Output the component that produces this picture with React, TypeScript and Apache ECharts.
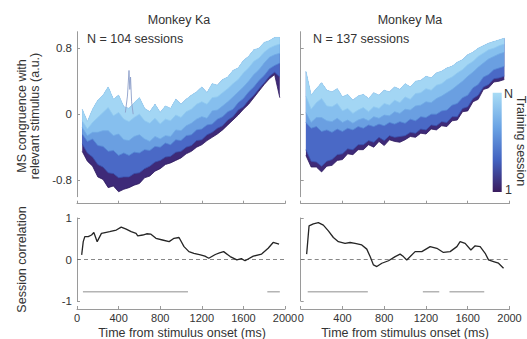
import React, { useEffect, useRef } from "react";
import * as echarts from "echarts";

const FONT = '"Liberation Sans", Arial, Helvetica, sans-serif';

// time grid (ms) of the session traces
const times = [50, 100, 150, 200, 250, 300, 350, 400, 450, 500, 550, 600, 650, 700, 750, 800, 850, 900, 950, 1000,
  1050, 1100, 1150, 1200, 1250, 1300, 1350, 1400, 1450, 1500, 1550, 1600, 1650, 1700, 1750, 1800, 1850, 1900, 1950];

// Monkey Ka – upper envelope of all traces, and lower edges of session groups
// (B0 = earliest sessions ... B4 = latest sessions)
const kaTop = [0.06, -0.09, 0.06, 0.17, 0.23, 0.33, 0.18, 0.23, 0.09, 0.07, 0.14, 0.20, 0.07, 0.03, 0.12, 0.02, 0.10, 0.07, 0.18, 0.12,
  0.18, 0.23, 0.27, 0.33, 0.26, 0.37, 0.35, 0.42, 0.45, 0.53, 0.56, 0.65, 0.70, 0.78, 0.80, 0.87, 0.89, 0.93, 0.93];
const kaB4 = [-0.08, -0.18, -0.10, -0.04, 0.02, 0.08, -0.02, 0.02, -0.06, -0.09, -0.04, 0.00, -0.08, -0.11, -0.05, -0.12, -0.06, -0.08, -0.01, -0.04,
  0.03, 0.06, 0.12, 0.15, 0.12, 0.20, 0.21, 0.26, 0.31, 0.37, 0.42, 0.50, 0.56, 0.64, 0.68, 0.75, 0.80, 0.83, 0.85];
const kaB3 = [-0.16, -0.26, -0.22, -0.22, -0.20, -0.20, -0.26, -0.24, -0.31, -0.32, -0.27, -0.25, -0.30, -0.33, -0.27, -0.30, -0.26, -0.27, -0.19, -0.20,
  -0.14, -0.11, -0.06, -0.03, -0.05, 0.04, 0.05, 0.10, 0.15, 0.21, 0.27, 0.33, 0.40, 0.48, 0.54, 0.62, 0.69, 0.72, 0.74];
const kaB2 = [-0.24, -0.33, -0.30, -0.38, -0.39, -0.45, -0.44, -0.50, -0.47, -0.50, -0.46, -0.47, -0.43, -0.44, -0.39, -0.40, -0.35, -0.37, -0.31, -0.32,
  -0.26, -0.25, -0.19, -0.18, -0.13, -0.12, -0.06, -0.03, 0.03, 0.06, 0.14, 0.19, 0.27, 0.33, 0.41, 0.47, 0.55, 0.59, 0.62];
const kaB1 = [-0.36, -0.47, -0.52, -0.61, -0.64, -0.71, -0.72, -0.77, -0.76, -0.76, -0.72, -0.71, -0.66, -0.63, -0.58, -0.56, -0.52, -0.51, -0.46, -0.45,
  -0.40, -0.38, -0.32, -0.31, -0.25, -0.22, -0.17, -0.14, -0.07, -0.03, 0.05, 0.09, 0.17, 0.23, 0.31, 0.38, 0.46, 0.51, 0.45];
const kaB0 = [-0.45, -0.57, -0.63, -0.76, -0.79, -0.89, -0.87, -0.94, -0.91, -0.89, -0.86, -0.84, -0.77, -0.75, -0.69, -0.66, -0.61, -0.59, -0.56, -0.53,
  -0.48, -0.45, -0.40, -0.37, -0.32, -0.28, -0.24, -0.19, -0.13, -0.07, -0.01, 0.06, 0.12, 0.20, 0.28, 0.36, 0.43, 0.48, 0.20];
// single outlier session trace in Ka
const kaSpikeT = [465, 485, 500, 508, 515, 525, 540];
const kaSpikeV = [0.02, 0.22, 0.53, 0.30, 0.45, 0.15, 0.0];

// Monkey Ma
const maTop = [0.52, 0.23, 0.31, 0.38, 0.29, 0.27, 0.31, 0.21, 0.24, 0.17, 0.22, 0.24, 0.19, 0.26, 0.23, 0.29, 0.27, 0.33, 0.30, 0.37,
  0.33, 0.40, 0.41, 0.46, 0.44, 0.50, 0.52, 0.56, 0.58, 0.63, 0.66, 0.72, 0.75, 0.80, 0.83, 0.86, 0.88, 0.90, 0.92];
const maB4 = [0.22, 0.06, 0.14, 0.19, 0.10, 0.09, 0.13, 0.04, 0.07, 0.01, 0.05, 0.08, 0.03, 0.09, 0.07, 0.13, 0.11, 0.17, 0.14, 0.21,
  0.18, 0.25, 0.26, 0.31, 0.29, 0.35, 0.37, 0.42, 0.45, 0.50, 0.54, 0.60, 0.64, 0.70, 0.74, 0.78, 0.80, 0.83, 0.85];
const maB3 = [0.02, -0.10, -0.04, -0.04, -0.08, -0.09, -0.05, -0.10, -0.07, -0.11, -0.07, -0.05, -0.08, -0.03, -0.05, -0.01, -0.02, 0.03, 0.01, 0.06,
  0.05, 0.10, 0.11, 0.15, 0.14, 0.19, 0.22, 0.26, 0.30, 0.35, 0.40, 0.46, 0.51, 0.57, 0.62, 0.67, 0.70, 0.73, 0.75];
const maB2 = [-0.10, -0.17, -0.15, -0.21, -0.19, -0.22, -0.18, -0.21, -0.17, -0.19, -0.15, -0.17, -0.13, -0.15, -0.12, -0.14, -0.10, -0.12, -0.09, -0.11,
  -0.06, -0.08, -0.03, -0.04, 0.00, 0.00, 0.04, 0.05, 0.11, 0.13, 0.20, 0.23, 0.32, 0.36, 0.45, 0.48, 0.54, 0.56, 0.58];
const maB1 = [-0.43, -0.57, -0.58, -0.63, -0.57, -0.55, -0.49, -0.48, -0.42, -0.43, -0.37, -0.37, -0.32, -0.34, -0.28, -0.32, -0.26, -0.28, -0.27, -0.26,
  -0.22, -0.23, -0.18, -0.19, -0.13, -0.14, -0.09, -0.10, -0.03, -0.03, 0.07, 0.09, 0.19, 0.23, 0.33, 0.36, 0.43, 0.44, 0.46];
const maB0 = [-0.50, -0.64, -0.64, -0.70, -0.63, -0.62, -0.56, -0.55, -0.48, -0.49, -0.43, -0.43, -0.37, -0.40, -0.33, -0.38, -0.31, -0.33, -0.34, -0.31,
  -0.27, -0.28, -0.23, -0.24, -0.18, -0.19, -0.14, -0.15, -0.08, -0.07, 0.03, 0.04, 0.15, 0.18, 0.30, 0.32, 0.39, 0.40, 0.42];

// session correlation
const kaCorrT = [45, 60, 75, 108, 140, 162, 194, 235, 270, 314, 345, 378, 425, 473, 521, 568, 584, 632, 670, 711, 759, 822, 886, 933, 981,
  1029, 1076, 1124, 1187, 1230, 1267, 1330, 1370, 1410, 1473, 1537, 1580, 1616, 1695, 1775, 1838, 1886, 1943];
const kaCorrV = [0.11, 0.43, 0.55, 0.55, 0.59, 0.65, 0.43, 0.63, 0.65, 0.67, 0.69, 0.71, 0.78, 0.73, 0.67, 0.63, 0.57, 0.59, 0.62, 0.61, 0.51, 0.47, 0.43, 0.51, 0.53,
  0.31, 0.19, 0.15, 0.11, 0.08, 0.03, 0.12, 0.16, 0.19, 0.07, -0.01, 0.02, -0.03, 0.08, 0.13, 0.27, 0.41, 0.37];
const maCorrT = [57, 80, 121, 169, 217, 265, 313, 361, 425, 473, 521, 585, 633, 665, 697, 729, 777, 841, 905, 952, 984, 1016, 1096, 1160,
  1240, 1304, 1367, 1431, 1496, 1527, 1575, 1630, 1671, 1719, 1767, 1799, 1847, 1895, 1943];
const maCorrV = [0.13, 0.81, 0.86, 0.89, 0.83, 0.69, 0.53, 0.43, 0.39, 0.41, 0.39, 0.35, 0.25, 0.07, -0.13, -0.17, -0.09, -0.03, 0.07, 0.13, 0.07, -0.01, 0.19, 0.19,
  0.31, 0.27, 0.17, 0.19, 0.31, 0.43, 0.39, 0.23, 0.33, 0.31, 0.15, -0.01, -0.05, -0.09, -0.21];

// significance segments [start, end] in ms
const kaSigStart = [57, 1830];
const kaSigEnd = [1067, 1950];
const maSigStart = [67, 1170, 1425];
const maSigEnd = [643, 1327, 1758];
const sigLevel = -0.78;

const xMin = 0;
const xMax = 2000;
const xInterval = 400;
const topYTicks = [-0.8, 0, 0.8];

// session-group colours (earliest -> latest)
const groupFill = ["#3e2a78", "#4a69c6", "#6a9fe1", "#86bfee", "#a3d6f4"];
const groupEdge = ["#2f1b5e", "#3a52ad", "#5588d4", "#71abe6", "#8fc9f0"];

const AXIS = "#9a9a9a";
const TXT = "#333";

function bandSeries(gi: number, top: number[], lowers: number[][]) {
  return {
    type: "custom",
    xAxisIndex: gi,
    yAxisIndex: gi,
    silent: true,
    clip: true,
    data: lowers.map((_, i) => [1000, 0, i]),
    renderItem: (params: any, api: any) => {
      const i = params.dataIndex;
      const up = times.map((t, k) => api.coord([t, top[k]]));
      const lo = times.map((t, k) => api.coord([t, lowers[i][k]]));
      const poly = up.concat(lo.slice().reverse());
      const children: any[] = [
        { type: "polygon", shape: { points: poly }, style: { fill: groupFill[i] } },
        { type: "polyline", shape: { points: lo }, style: { stroke: groupEdge[i], lineWidth: 0.8, fill: null } },
      ];
      if (i === lowers.length - 1) {
        children.push({ type: "polyline", shape: { points: up }, style: { stroke: "#9fd2f2", lineWidth: 0.9, fill: null } });
      }
      return { type: "group", children };
    },
  };
}

function xAxis(gi: number, showLabel: boolean, offset: number) {
  return {
    type: "value",
    gridIndex: gi,
    min: xMin,
    max: xMax,
    interval: xInterval,
    offset,
    axisLine: { onZero: false, lineStyle: { color: AXIS, width: 1 } },
    axisTick: { inside: true, length: 3, lineStyle: { color: AXIS } },
    axisLabel: { show: showLabel, color: TXT, fontSize: 11, fontFamily: FONT, margin: 3, formatter: (v: number) => String(v) },
    splitLine: { show: false },
  };
}

function yAxisTop(gi: number, showLabel: boolean) {
  return {
    type: "value",
    gridIndex: gi,
    min: -1,
    max: 1,
    axisLine: { show: true, onZero: false, lineStyle: { color: AXIS, width: 1 } },
    axisTick: { show: true, inside: true, length: 3, customValues: topYTicks, lineStyle: { color: AXIS } },
    axisLabel: { show: showLabel, customValues: topYTicks, color: TXT, fontSize: 11.5, fontFamily: FONT, margin: 5,
      formatter: (v: number) => String(v) },
    splitLine: { show: false },
  };
}

function yAxisBottom(gi: number, showLabel: boolean) {
  return {
    type: "value",
    gridIndex: gi,
    min: -1,
    max: 1,
    interval: 1,
    axisLine: { show: true, onZero: false, lineStyle: { color: AXIS, width: 1 } },
    axisTick: { show: true, inside: true, length: 3, lineStyle: { color: AXIS } },
    axisLabel: { show: showLabel, color: TXT, fontSize: 11.5, fontFamily: FONT, margin: 5 },
    splitLine: { show: false },
  };
}

function zip(t: number[], v: number[]) {
  return t.map((x, i) => [x, v[i]]);
}

function sigSeries(gi: number, starts: number[], ends: number[]) {
  return starts.map((s, i) => ({
    type: "line",
    xAxisIndex: gi,
    yAxisIndex: gi,
    data: [[s, sigLevel], [ends[i], sigLevel]],
    symbol: "none",
    silent: true,
    lineStyle: { color: "#b4b4b4", width: 1.5 },
  }));
}

function zeroLine(gi: number) {
  return {
    type: "line",
    xAxisIndex: gi,
    yAxisIndex: gi,
    data: [[xMin, 0], [xMax, 0]],
    symbol: "none",
    silent: true,
    lineStyle: { color: "#6a6a6a", width: 0.8, type: [4, 3] },
  };
}

function corrSeries(gi: number, t: number[], v: number[]) {
  return {
    type: "line",
    xAxisIndex: gi,
    yAxisIndex: gi,
    data: zip(t, v),
    symbol: "none",
    silent: true,
    lineStyle: { color: "#252525", width: 1.3 },
  };
}

function txt(text: string, x: number, y: number, size: number, align = "center", rotation = 0) {
  return {
    type: "text",
    x,
    y,
    rotation,
    silent: true,
    style: {
      text,
      fill: TXT,
      font: `${size}px ${FONT}`,
      align,
      textAlign: align,
      verticalAlign: "middle",
      textVerticalAlign: "middle",
    },
  };
}

export default function App() {
  const ref = useRef<HTMLDivElement>(null);
  useEffect(() => {
    if (!ref.current) return;
    const chart = echarts.init(ref.current, null, { renderer: "svg" });
    const LX = 77, LW = 208, RX = 300.7, RW = 208.8;
    const TT = 31.7, TH = 165, BT = 218, BH = 83;
    const option: any = {
      animation: false,
      grid: [
        { left: LX, top: TT, width: LW, height: TH },
        { left: RX, top: TT, width: RW, height: TH },
        { left: LX, top: BT, width: LW, height: BH },
        { left: RX, top: BT, width: RW, height: BH },
      ],
      xAxis: [xAxis(0, false, 7), xAxis(1, false, 7), xAxis(2, true, 8), xAxis(3, true, 8)],
      yAxis: [yAxisTop(0, true), yAxisTop(1, false), yAxisBottom(2, true), yAxisBottom(3, false)],
      series: [
        bandSeries(0, kaTop, [kaB0, kaB1, kaB2, kaB3, kaB4]),
        {
          type: "line", xAxisIndex: 0, yAxisIndex: 0, data: zip(kaSpikeT, kaSpikeV), symbol: "none", silent: true,
          lineStyle: { color: "#8d9fc9", width: 0.9 },
        },
        bandSeries(1, maTop, [maB0, maB1, maB2, maB3, maB4]),
        zeroLine(2),
        zeroLine(3),
        ...sigSeries(2, kaSigStart, kaSigEnd),
        ...sigSeries(3, maSigStart, maSigEnd),
        corrSeries(2, kaCorrT, kaCorrV),
        corrSeries(3, maCorrT, maCorrV),
      ],
      graphic: [
        txt("Monkey Ka", 179, 20, 12.5),
        txt("Monkey Ma", 410, 20, 12.5),
        txt("N = 104 sessions", 87, 39, 12.5, "left"),
        txt("N = 137 sessions", 313, 39, 12.5, "left"),
        txt("MS congruence with", 22, 116, 12.5, "center", Math.PI / 2),
        txt("relevant stimulus (a.u.)", 35, 116, 12.5, "center", Math.PI / 2),
        txt("Session correlation", 22, 259.5, 12.5, "center", Math.PI / 2),
        txt("Time from stimulus onset (ms)", 182, 333, 12.5),
        txt("Time from stimulus onset (ms)", 405, 333, 12.5),
        {
          type: "rect",
          shape: { x: 492.7, y: 92.7, width: 9, height: 99.3 },
          silent: true,
          style: {
            fill: new echarts.graphic.LinearGradient(0, 0, 0, 1, [
              { offset: 0, color: "#a8dcf5" },
              { offset: 0.35, color: "#6aa3e4" },
              { offset: 0.68, color: "#4262c0" },
              { offset: 1, color: "#3a1b5e" },
            ]),
          },
        },
        txt("N", 504, 94, 12.5, "left"),
        txt("1", 505, 190, 12.5, "left"),
        txt("Training session", 521, 141, 12.5, "center", -Math.PI / 2),
      ],
    };
    chart.setOption(option);
    return () => chart.dispose();
  }, []);
  return <div ref={ref} style={{ position: "absolute", left: 0, top: 0, width: 527, height: 339 }} />;
}
